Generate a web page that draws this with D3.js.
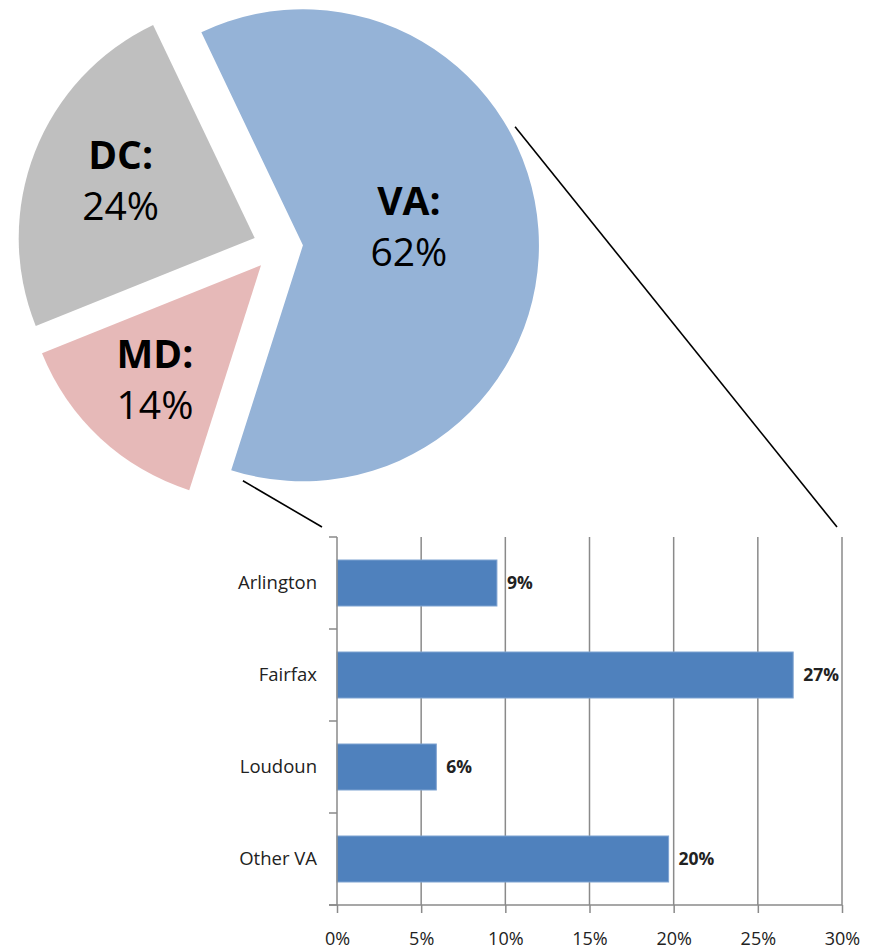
<!DOCTYPE html>
<html lang="en">
<meta charset="utf-8">
<style>
body {
  margin: 0;
  background: #fff;
  font-family: 'Open Sans', sans-serif;
}
.slice-name { font-weight: bold; }
.grid line { stroke: #8a8a8a; stroke-width: 1.5px; }
.axis path, .axis line { stroke: #8a8a8a; stroke-width: 1.5px; }
.axis .domain { display: none; }
.bar { fill: #4f81bd; stroke: #7fa3d1; stroke-width: 1px; }
.connector { stroke: #000; stroke-width: 1.6px; }
</style>
<body>
<div id="chart"></div>
<script src="https://d3js.org/d3.v7.min.js"></script>
<script>

// pie data (share of total, %)
var states = ["VA", "MD", "DC"];
var stateShares = [62, 14, 24];
var stateColors = ["#95b3d7", "#e6b9b8", "#bfbfbf"];

// bar data (share within VA breakdown, %)
var counties = ["Arlington", "Fairfax", "Loudoun", "Other VA"];
var countyShares = [9.5, 27.1, 5.9, 19.7];
var countyLabels = ["9%", "27%", "6%", "20%"];
var xTicks = [0, 5, 10, 15, 20, 25, 30];

var width = 873,
    height = 949;

var svg = d3.select("#chart").append("svg")
    .attr("width", width)
    .attr("height", height);

var deg = Math.PI / 180;

// ---------- exploded pie ----------
var pieCx = 278, pieCy = 247,
    radius = 236,
    explode = 25;

var pie = d3.pie()
    .sort(null)
    .startAngle(-25.5 * deg)
    .endAngle(-25.5 * deg + 2 * Math.PI);

var arc = d3.arc().innerRadius(0).outerRadius(radius);

var slices = pie(stateShares).map(function(p, i) {
  var mid = (p.startAngle + p.endAngle) / 2;
  p.name = states[i];
  p.color = stateColors[i];
  p.dx = Math.sin(mid) * explode;
  p.dy = -Math.cos(mid) * explode;
  p.mid = mid;
  return p;
});

var pieG = svg.append("g")
    .attr("transform", "translate(" + pieCx + "," + pieCy + ")");

var sliceG = pieG.selectAll("g.slice")
    .data(slices)
  .enter().append("g")
    .attr("class", "slice")
    .attr("transform", function(d) { return "translate(" + d.dx + "," + d.dy + ")"; });

sliceG.append("path")
    .attr("d", arc)
    .style("fill", function(d) { return d.color; });

// label distance from slice apex (fraction of radius) and a small vertical nudge
var labelFrac = {VA: 0.45, MD: 0.66, DC: 0.61};
var labelNudge = {VA: -12, MD: 0, DC: -6};

sliceG.each(function(d) {
  var r = radius * labelFrac[d.name];
  var lx = Math.sin(d.mid) * r,
      ly = -Math.cos(d.mid) * r + labelNudge[d.name];
  var t = d3.select(this).append("text")
      .attr("text-anchor", "middle")
      .style("font-size", "39px");
  t.append("tspan")
      .attr("class", "slice-name")
      .attr("x", lx)
      .attr("y", ly - 11)
      .text(d.name + ":");
  t.append("tspan")
      .attr("x", lx)
      .attr("y", ly + 40)
      .text(d.data + "%");
});

// ---------- bar chart ----------
var margin = {top: 537, left: 337, right: 33, bottom: 44};
var plotW = width - margin.left - margin.right,
    plotH = height - margin.top - margin.bottom;

var x = d3.scaleLinear()
    .domain([0, 30])
    .range([margin.left, margin.left + plotW + 2]);

var y = d3.scaleBand()
    .domain(counties)
    .range([margin.top, margin.top + plotH])
    .paddingInner(0.5)
    .paddingOuter(0.25);

var bottom = margin.top + plotH;

// vertical gridlines
svg.append("g")
    .attr("class", "grid")
  .selectAll("line")
    .data(xTicks.slice(1))
  .enter().append("line")
    .attr("x1", function(d) { return x(d); })
    .attr("x2", function(d) { return x(d); })
    .attr("y1", margin.top)
    .attr("y2", bottom);

// bars
svg.append("g")
  .selectAll("rect")
    .data(counties)
  .enter().append("rect")
    .attr("class", "bar")
    .attr("x", x(0))
    .attr("y", function(d) { return y(d); })
    .attr("width", function(d, i) { return x(countyShares[i]) - x(0); })
    .attr("height", y.bandwidth());

// value labels
svg.append("g")
  .selectAll("text")
    .data(counties)
  .enter().append("text")
    .attr("x", function(d, i) { return x(countyShares[i]) + 10; })
    .attr("y", function(d) { return y(d) + y.bandwidth() / 2; })
    .attr("dy", "0.35em")
    .style("font-size", "17.5px")
    .style("font-weight", "bold")
    .style("fill", "#222")
    .text(function(d, i) { return countyLabels[i]; });

// x axis
var xAxis = svg.append("g")
    .attr("class", "axis")
    .attr("transform", "translate(0," + bottom + ")")
    .call(d3.axisBottom(x)
      .tickValues(xTicks)
      .tickFormat(function(d) { return d + "%"; })
      .tickSize(8)
      .tickPadding(19));
xAxis.selectAll("text")
    .style("font-size", "18px")
    .style("font-family", "'Open Sans', sans-serif")
    .style("fill", "#222");
xAxis.append("line")
    .attr("x1", x(0) - 8)
    .attr("x2", x(30))
    .attr("y1", 0)
    .attr("y2", 0);

// y axis
var yAxis = svg.append("g")
    .attr("class", "axis")
    .attr("transform", "translate(" + x(0) + ",0)")
    .call(d3.axisLeft(y).tickSize(0).tickPadding(20));
yAxis.selectAll("text")
    .style("font-size", "18.5px")
    .style("font-family", "'Open Sans', sans-serif")
    .style("fill", "#222");
yAxis.append("line")
    .attr("x1", 0).attr("x2", 0)
    .attr("y1", margin.top).attr("y2", bottom);
// category boundary ticks
yAxis.selectAll(".bound")
    .data(d3.range(counties.length + 1))
  .enter().append("line")
    .attr("class", "bound")
    .attr("x1", -8).attr("x2", 0)
    .attr("y1", function(i) { return margin.top + i * y.step(); })
    .attr("y2", function(i) { return margin.top + i * y.step(); });

// ---------- connectors from VA slice to bar chart ----------
var va = slices[0];
var vaApex = [pieCx + va.dx, pieCy + va.dy];
var connectorAngles = [60.8 * deg, 194.3 * deg];
var connectorEnds = [[x(30) - 5, margin.top - 10], [x(0) - 15, margin.top - 10]];

svg.selectAll("line.connector")
    .data(connectorAngles)
  .enter().append("line")
    .attr("class", "connector")
    .attr("x1", function(a) { return vaApex[0] + Math.sin(a) * (radius + 7); })
    .attr("y1", function(a) { return vaApex[1] - Math.cos(a) * (radius + 7); })
    .attr("x2", function(a, i) { return connectorEnds[i][0]; })
    .attr("y2", function(a, i) { return connectorEnds[i][1]; });

</script>
</body>
</html>
